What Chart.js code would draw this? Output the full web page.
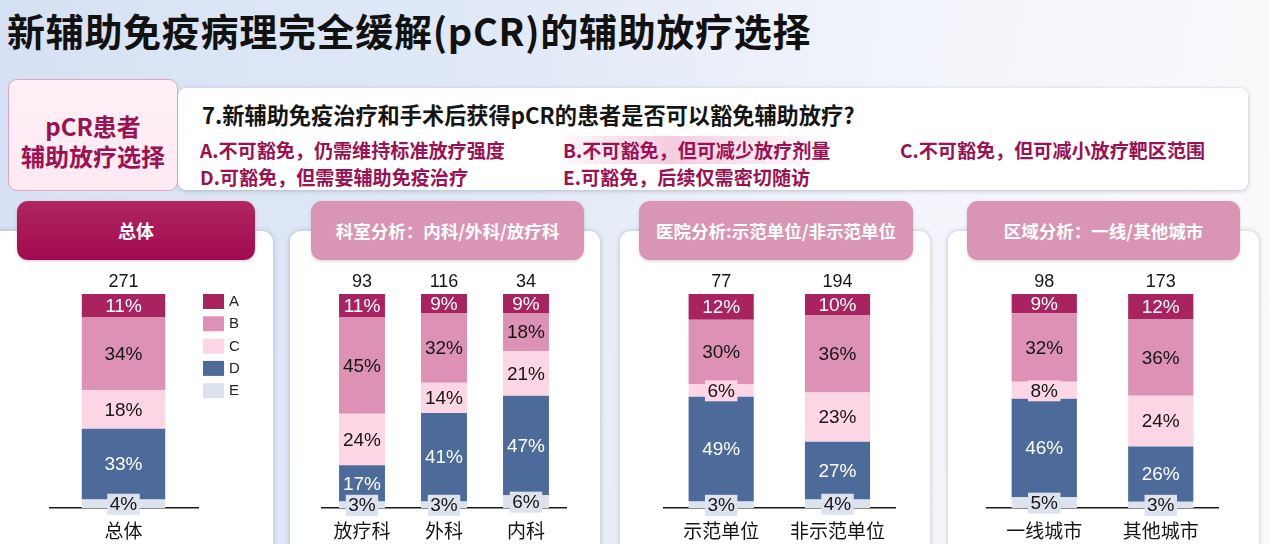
<!DOCTYPE html>
<html>
<head>
<meta charset="utf-8">
<script src="https://cdn.jsdelivr.net/npm/chart.js@4"></script>
<style>
  html, body { margin: 0; padding: 0; }
  body {
    width: 1269px; height: 544px; overflow: hidden; position: relative;
    font-family: "Noto Sans CJK SC", "Liberation Sans", sans-serif;
    background: linear-gradient(100deg, #d5e1f3 0%, #e2eaf7 40%, #f3f5fb 70%, #fdf9fb 100%);
  }
  .title {
    position: absolute; left: 7px; top: 2px; font-size: 38px; font-weight: 700;
    color: #111; letter-spacing: 0.7px; white-space: nowrap;
  }
  .tag {
    position: absolute; left: 8px; top: 79px; width: 170px; height: 112px; box-sizing: border-box;
    border: 1.5px solid #e2a2c0; border-radius: 9px;
    background: linear-gradient(180deg, #fdf0f6 0%, #fde9f2 100%);
    color: #9b1152; font-weight: 700; font-size: 24px; line-height: 30px;
    text-align: center; padding-top: 31px; z-index: 2;
  }
  .qbox {
    position: absolute; left: 178px; top: 88px; width: 1070px; height: 102px;
    background: #fff; border-radius: 8px; box-shadow: 0 1px 4px rgba(90,90,120,0.35);
  }
  .q { position: absolute; left: 24px; top: 10px; font-size: 22.2px; font-weight: 700; color: #151515; white-space: nowrap; }
  .opt { position: absolute; font-size: 19.1px; font-weight: 700; color: #9b1152; white-space: nowrap; }
  .hl { background: linear-gradient(90deg, rgba(240,190,215,0.1) 0%, rgba(236,170,202,0.6) 40%, rgba(245,205,225,0.0) 100%); padding-right: 6px; }
  .panel {
    position: absolute; top: 231px; height: 400px; background: #fff; border-radius: 11px;
    box-shadow: 0 0 5px rgba(90,90,120,0.35);
  }
  .pill {
    position: absolute; top: 201px; height: 59px; border-radius: 11px; color: #fff;
    font-weight: 700; font-size: 17.5px; text-align: center; line-height: 59px; white-space: nowrap;
    box-shadow: 0 1px 3px rgba(90,60,80,0.25);
  }
  .pill.dark { background: linear-gradient(180deg, #b0265f 0%, #a20a50 100%); font-size: 18px; }
  .pill.light { background: #d896b4; }
  canvas { position: absolute; }
</style>
</head>
<body>
<div class="title">新辅助免疫病理完全缓解(pCR)的辅助放疗选择</div>

<div class="qbox">
  <div class="q">7.新辅助免疫治疗和手术后获得pCR的患者是否可以豁免辅助放疗?</div>
  <div class="opt" style="left:22px; top:48px;">A.不可豁免，仍需维持标准放疗强度</div>
  <div class="opt" style="left:385px; top:48px;"><span class="hl">B.不可豁免，但可减少放疗剂量</span></div>
  <div class="opt" style="left:722px; top:48px;">C.不可豁免，但可减小放疗靶区范围</div>
  <div class="opt" style="left:22px; top:75px;">D.可豁免，但需要辅助免疫治疗</div>
  <div class="opt" style="left:385px; top:75px;">E.可豁免，后续仅需密切随访</div>
</div>
<div class="tag">pCR患者<br>辅助放疗选择</div>

<div class="panel" style="left:-12px; width:285px;"></div>
<div class="panel" style="left:290px; width:310px;"></div>
<div class="panel" style="left:620px; width:310px;"></div>
<div class="panel" style="left:948px; width:311px;"></div>

<div class="pill dark" style="left:17px; width:238px;">总体</div>
<div class="pill light" style="left:311px; width:273px;">科室分析：内科/外科/放疗科</div>
<div class="pill light" style="left:639px; width:274px;">医院分析:示范单位/非示范单位</div>
<div class="pill light" style="left:967px; width:273px;">区域分析：一线/其他城市</div>

<canvas id="c1" width="201" height="274" style="left:49px; top:270px;"></canvas>
<canvas id="c2" width="246" height="274" style="left:321px; top:270px;"></canvas>
<canvas id="c3" width="233" height="274" style="left:663px; top:270px;"></canvas>
<canvas id="c4" width="233" height="274" style="left:986px; top:270px;"></canvas>

<script>
// 选项与配色
const optionKeys = ['A', 'B', 'C', 'D', 'E'];
const optionColors = ['#a8235f', '#dd91b5', '#fdd6e6', '#4c6b9b', '#dce3ee'];
const labelColors = ['#ffffff', '#161616', '#161616', '#ffffff', '#161616'];

// 总体
const overallCats = ['总体'];
const overallN = [271];
const overallA = [11];
const overallB = [34];
const overallC = [18];
const overallD = [33];
const overallE = [4];

// 科室分析
const deptCats = ['放疗科', '外科', '内科'];
const deptN = [93, 116, 34];
const deptA = [11, 9, 9];
const deptB = [45, 32, 18];
const deptC = [24, 14, 21];
const deptD = [17, 41, 47];
const deptE = [3, 3, 6];

// 医院分析
const hospCats = ['示范单位', '非示范单位'];
const hospN = [77, 194];
const hospA = [12, 10];
const hospB = [30, 36];
const hospC = [6, 23];
const hospD = [49, 27];
const hospE = [3, 4];

// 区域分析
const cityCats = ['一线城市', '其他城市'];
const cityN = [98, 173];
const cityA = [9, 12];
const cityB = [32, 36];
const cityC = [8, 24];
const cityD = [46, 26];
const cityE = [5, 3];

const numFont = '"Liberation Sans", Arial, sans-serif';

// 每段的百分比标签 + 顶部样本数
const segLabels = {
  id: 'segLabels',
  afterDatasetsDraw(chart) {
    const ctx = chart.ctx;
    ctx.save();
    ctx.textAlign = 'center';
    ctx.textBaseline = 'middle';
    ctx.font = '19px ' + numFont;
    chart.data.datasets.forEach((ds, i) => {
      chart.getDatasetMeta(i).data.forEach((bar, j) => {
        const txt = ds.raw[j] + '%';
        const y = (bar.y + bar.base) / 2 + 1;
        const h = Math.abs(bar.base - bar.y);
        if (h < 18) {
          const w = ctx.measureText(txt).width + 5;
          ctx.fillStyle = ds.backgroundColor;
          ctx.fillRect(bar.x - w / 2, y - 11, w, 21);
        }
        ctx.fillStyle = ds.textColor;
        ctx.fillText(txt, bar.x, y);
      });
    });
    // 样本数
    ctx.font = '18px ' + numFont;
    ctx.fillStyle = '#151515';
    const top = chart.getDatasetMeta(chart.data.datasets.length - 1).data;
    chart.options.plugins.segLabels.totals.forEach((n, j) => {
      ctx.fillText(String(n), top[j].x, top[j].y - 12);
    });
    ctx.restore();
  }
};

// 总体图右侧图例 (A 在上)
const sideLegend = {
  id: 'sideLegend',
  afterDraw(chart, args, opts) {
    if (!opts.show) return;
    const ctx = chart.ctx;
    ctx.save();
    ctx.font = '15px ' + numFont;
    ctx.textBaseline = 'middle';
    const items = chart.data.datasets.slice().reverse();
    items.forEach((ds, i) => {
      const y = chart.chartArea.top + i * 22.3;
      ctx.fillStyle = ds.backgroundColor;
      ctx.fillRect(154, y, 21, 15);
      ctx.fillStyle = '#222';
      ctx.fillText(ds.label, 180, y + 8);
    });
    ctx.restore();
  }
};

function makeChart(id, cats, totals, rows, rightPad, showLegend) {
  const sums = cats.map((c, j) => rows.reduce((s, r) => s + r[j], 0));
  // E 在底部，A 在顶部
  const datasets = optionKeys.map((k, i) => ({
    label: k,
    raw: rows[i],
    data: rows[i].map((v, j) => v / sums[j] * 100),
    backgroundColor: optionColors[i],
    textColor: labelColors[i],
    borderWidth: 0,
    categoryPercentage: 0.56,
    barPercentage: 1,
  })).reverse();
  return new Chart(document.getElementById(id), {
    type: 'bar',
    data: { labels: cats, datasets: datasets },
    options: {
      responsive: false,
      animation: false,
      layout: { padding: { top: 24, right: rightPad, left: 0, bottom: 0 } },
      plugins: {
        legend: { display: false },
        tooltip: { enabled: false },
        segLabels: { totals: totals },
        sideLegend: { show: showLegend },
      },
      scales: {
        x: {
          stacked: true,
          grid: { display: false, drawTicks: false },
          border: { display: true, color: '#1a1a1a', width: 1.5 },
          ticks: { color: '#151515', padding: 11, font: { size: 19, family: '"Noto Sans CJK SC", sans-serif' } },
          afterFit(scale) { scale.height = 36; },
        },
        y: { stacked: true, display: false, min: 0, max: 100 },
      },
    },
    plugins: [segLabels, sideLegend],
  });
}

makeChart('c1', overallCats, overallN, [overallA, overallB, overallC, overallD, overallE], 52, true);
makeChart('c2', deptCats, deptN, [deptA, deptB, deptC, deptD, deptE], 0, false);
makeChart('c3', hospCats, hospN, [hospA, hospB, hospC, hospD, hospE], 0, false);
makeChart('c4', cityCats, cityN, [cityA, cityB, cityC, cityD, cityE], 0, false);
</script>
</body>
</html>
